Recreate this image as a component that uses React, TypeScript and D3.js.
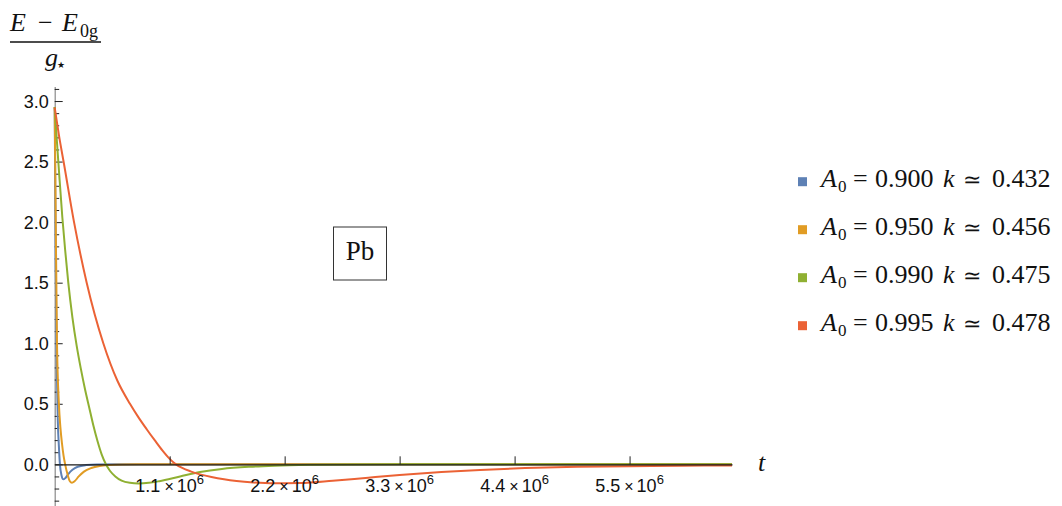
import { useEffect, useRef } from "react";
import * as d3 from "d3";

// t is in units of 10^6
const X_TICKS = [1.1, 2.2, 3.3, 4.4, 5.5];
const X_TICK_LABELS = ["1.1", "2.2", "3.3", "4.4", "5.5"];
const Y_MAJOR = [0, 0.5, 1, 1.5, 2, 2.5, 3];
const Y_MAJOR_LABELS = ["0.0", "0.5", "1.0", "1.5", "2.0", "2.5", "3.0"];
const Y_MINOR = [
  -0.3, -0.2, -0.1, 0.1, 0.2, 0.3, 0.4, 0.6, 0.7, 0.8, 0.9, 1.1, 1.2, 1.3, 1.4,
  1.6, 1.7, 1.8, 1.9, 2.1, 2.2, 2.3, 2.4, 2.6, 2.7, 2.8, 2.9, 3.1,
];

const A_FACTORS = ["0.900", "0.950", "0.990", "0.995"];
const A_VALUES = ["0.432", "0.456", "0.475", "0.478"];
const COLORS = ["#5e81b5", "#e19c24", "#8fb032", "#eb6235"];

const blue: [number, number][] = [
  [0, 2.95], [0.01, 1.6], [0.02, 0.8], [0.03, 0.35], [0.04, 0.15], [0.05, 0.0],
  [0.065, -0.09], [0.083, -0.124], [0.1, -0.115], [0.13, -0.08], [0.17, -0.045],
  [0.22, -0.02], [0.3, -0.006], [0.4, -0.001], [0.6, 0], [6.48, 0],
];

const orange: [number, number][] = [
  [0, 2.95], [0.01, 2.0], [0.022, 1.0], [0.04, 0.5], [0.055, 0.3], [0.07, 0.17],
  [0.085, 0.07], [0.1, 0.0], [0.125, -0.09], [0.145, -0.14], [0.165, -0.152],
  [0.19, -0.14], [0.23, -0.1], [0.28, -0.06], [0.35, -0.03], [0.43, -0.013],
  [0.52, -0.005], [0.65, -0.001], [0.8, 0], [6.48, 0],
];

const green: [number, number][] = [
  [0, 2.95], [0.02, 2.68], [0.041, 2.42], [0.073, 2.04], [0.1, 1.77], [0.13, 1.5],
  [0.17, 1.21], [0.21, 0.98], [0.25, 0.79], [0.29, 0.62], [0.33, 0.47], [0.37, 0.32],
  [0.41, 0.19], [0.45, 0.08], [0.49, 0.0], [0.53, -0.055], [0.58, -0.1],
  [0.64, -0.135], [0.72, -0.153], [0.8, -0.158], [0.9, -0.153], [1.0, -0.139],
  [1.2, -0.1], [1.39, -0.064], [1.6, -0.038], [1.87, -0.02], [2.1, -0.011],
  [2.44, -0.004], [2.8, -0.001], [3.3, 0], [6.48, 0],
];

const red: [number, number][] = [
  [0, 2.945], [0.04, 2.72], [0.089, 2.48], [0.185, 2.0], [0.306, 1.5], [0.465, 1.0],
  [0.6, 0.69], [0.72, 0.5], [0.8, 0.39], [0.88, 0.29], [0.96, 0.195], [1.03, 0.115],
  [1.1, 0.045], [1.16, 0.0], [1.22, -0.03], [1.3, -0.058], [1.4, -0.085],
  [1.5, -0.105], [1.62, -0.124], [1.74, -0.138], [1.9, -0.15], [2.1, -0.157],
  [2.35, -0.155], [2.66, -0.136], [3.0, -0.11], [3.3, -0.088], [3.7, -0.064],
  [4.07, -0.046], [4.5, -0.031], [5.0, -0.021], [5.5, -0.015], [6.0, -0.011],
  [6.48, -0.009],
];

const SERIES = [blue, orange, green, red];

const SERIF = "'Liberation Serif', 'Times New Roman', Times, serif";
const SANS = "'Liberation Sans', Arial, Helvetica, sans-serif";

export default function App() {
  const ref = useRef<SVGSVGElement>(null);

  useEffect(() => {
    const svg = d3.select(ref.current);
    svg.selectAll("*").remove();

    const x = d3.scaleLinear().domain([0, 6.48]).range([54.7, 732]);
    const y = d3.scaleLinear().domain([-0.34, 3.12]).range([505.5, 86.5]);

    // y axis (behind the curves)
    const gy = svg.append("g").attr("transform", `translate(${x(0)},0)`);
    gy.call(
      d3.axisRight(y).tickValues(Y_MINOR).tickSize(4.5).tickSizeOuter(0).tickFormat(() => "")
    );
    gy.select(".domain").attr("stroke", "#8a8a8a").attr("stroke-width", 1.2);
    const gyMaj = svg.append("g").attr("transform", `translate(${x(0)},0)`);
    gyMaj.call(
      d3.axisRight(y).tickValues(Y_MAJOR).tickSize(8).tickSizeOuter(0).tickFormat(() => "")
    );
    gyMaj.select(".domain").remove();
    svg.selectAll(".tick line").attr("stroke", "#222").attr("stroke-width", 1);

    svg
      .append("g")
      .selectAll("text")
      .data(Y_MAJOR)
      .join("text")
      .attr("x", x(0) - 6)
      .attr("y", (d) => y(d) + 6.5)
      .attr("text-anchor", "end")
      .style("font-family", SANS)
      .style("font-size", "18px")
      .attr("fill", "#111")
      .text((d, i) => Y_MAJOR_LABELS[i]);

    // curves
    const line = d3
      .line<[number, number]>()
      .x((d) => x(d[0]))
      .y((d) => y(d[1]))
      .curve(d3.curveMonotoneX);

    SERIES.forEach((s, i) => {
      svg
        .append("path")
        .datum(s)
        .attr("fill", "none")
        .attr("stroke", COLORS[i])
        .attr("stroke-width", 2)
        .attr("stroke-linejoin", "round")
        .attr("d", line);
    });

    // x axis (on top)
    const gx = svg.append("g").attr("transform", `translate(0,${y(0)})`);
    gx.call(d3.axisTop(x).tickValues(X_TICKS).tickSize(8).tickSizeOuter(0).tickFormat(() => ""));
    gx.select(".domain").attr("stroke", "#1a1a1a").attr("stroke-width", 1.3);
    gx.selectAll(".tick line").attr("stroke", "#222");

    const xl = svg
      .append("g")
      .selectAll("text")
      .data(X_TICKS)
      .join("text")
      .attr("x", (d) => x(d))
      .attr("y", y(0) + 27.5)
      .attr("text-anchor", "middle")
      .style("font-family", SANS)
      .style("font-size", "18px")
      .attr("fill", "#111");
    xl.append("tspan").text((d, i) => X_TICK_LABELS[i]);
    xl.append("tspan").attr("dx", 4).style("font-size", "16px").text("×");
    xl.append("tspan").attr("dx", 3).text("10");
    xl.append("tspan").attr("dy", -8).style("font-size", "13px").text("6");

    svg
      .append("text")
      .attr("x", 758)
      .attr("y", y(0) + 7)
      .style("font-family", SERIF)
      .style("font-style", "italic")
      .style("font-size", "26px")
      .attr("fill", "#111")
      .text("t");

    // y label as fraction
    const lab = svg
      .append("text")
      .style("font-family", SERIF)
      .style("font-size", "26px")
      .attr("fill", "#111");
    lab.append("tspan").attr("x", 10).attr("y", 31).style("font-style", "italic").text("E");
    lab.append("tspan").attr("x", 38).attr("y", 31).text("−");
    lab.append("tspan").attr("x", 62).attr("y", 31).style("font-style", "italic").text("E");
    lab.append("tspan").attr("x", 80).attr("y", 37).style("font-size", "18px").text("0g");
    svg
      .append("line")
      .attr("x1", 10)
      .attr("x2", 101)
      .attr("y1", 42)
      .attr("y2", 42)
      .attr("stroke", "#111")
      .attr("stroke-width", 1.3);
    const den = svg
      .append("text")
      .style("font-family", SERIF)
      .style("font-size", "26px")
      .attr("fill", "#111");
    den.append("tspan").attr("x", 45).attr("y", 66).style("font-style", "italic").text("g");
    den
      .append("tspan")
      .attr("x", 57)
      .attr("y", 68)
      .style("font-family", "'DejaVu Sans', sans-serif")
      .style("font-size", "9px")
      .text("★");

    // Pb box
    svg
      .append("rect")
      .attr("x", 333.5)
      .attr("y", 227)
      .attr("width", 53)
      .attr("height", 53)
      .attr("fill", "#fff")
      .attr("stroke", "#333")
      .attr("stroke-width", 1);
    svg
      .append("text")
      .attr("x", 360)
      .attr("y", 260)
      .attr("text-anchor", "middle")
      .style("font-family", SERIF)
      .style("font-size", "27px")
      .attr("fill", "#111")
      .text("Pb");

    // legend
    const leg = svg
      .append("g")
      .selectAll("g")
      .data(A_FACTORS)
      .join("g")
      .attr("transform", (d, i) => `translate(0,${181.7 + i * 48})`);
    leg
      .append("rect")
      .attr("x", 798)
      .attr("y", -4.5)
      .attr("width", 9)
      .attr("height", 9)
      .attr("fill", (d, i) => COLORS[i]);
    const lt = leg
      .append("text")
      .style("font-family", SERIF)
      .style("font-size", "26px")
      .attr("fill", "#111");
    lt.append("tspan").attr("x", 821).attr("y", 5).style("font-style", "italic").text("A");
    lt.append("tspan").attr("x", 838).attr("y", 10).style("font-size", "17px").text("0");
    lt.append("tspan").attr("x", 853).attr("y", 5).text("=");
    lt.append("tspan").attr("x", 875).attr("y", 5).text((d) => d);
    lt.append("tspan").attr("x", 943).attr("y", 5).style("font-style", "italic").text("k");
    lt.append("tspan").attr("x", 963).attr("y", 5).style("font-size", "22px").text("≃");
    lt.append("tspan").attr("x", 992).attr("y", 5).text((d, i) => A_VALUES[i]);
  }, []);

  return (
    <svg
      ref={ref}
      width={1062}
      height={506}
      style={{ position: "absolute", left: 0, top: 0, background: "#fff" }}
    />
  );
}
